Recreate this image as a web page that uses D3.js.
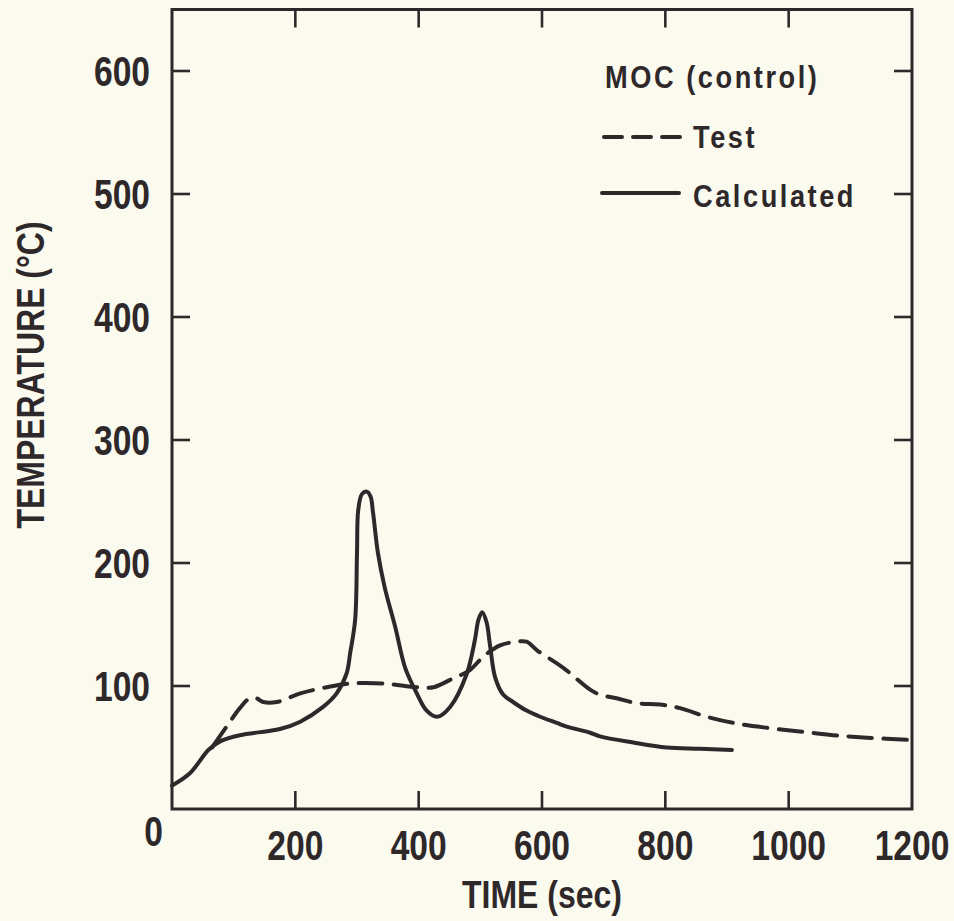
<!DOCTYPE html>
<html><head><meta charset="utf-8">
<script src="https://cdn.jsdelivr.net/npm/d3@7"></script>
<style>
html,body{margin:0;padding:0;background:#fafaef;}
svg{display:block;}
text{font-family:"Liberation Sans",Arial,sans-serif;font-weight:bold;fill:#2f282a;}
</style></head>
<body>
<script>
// ---- data ----
const xTicks = [200, 400, 600, 800, 1000, 1200];
const yTicks = [100, 200, 300, 400, 500, 600];
const xTickLabels = ["200", "400", "600", "800", "1000", "1200"];
const yTickLabels = ["100", "200", "300", "400", "500", "600"];
const originLabel = "0";
const xTitle = "TIME (sec)";
const yTitle = "TEMPERATURE (°C)";
const legendTitle = "MOC (control)";
const seriesNames = ["Test", "Calculated"];

// Calculated (solid)
const calcTime = [0, 29, 59, 78, 110, 175, 208, 245, 267, 283, 289, 297, 300, 302, 308, 316, 322, 326, 334, 345, 362, 378, 397, 413, 430, 451, 478, 491, 497, 503, 510, 516, 524, 537, 553, 575, 597, 624, 640, 678, 694, 748, 802, 856, 908];
const calcTemp = [19, 29, 48, 55, 60, 65, 71, 83, 94, 110, 127, 154, 208, 243, 256, 258, 254, 241, 208, 180, 148, 115, 94, 80, 75, 83, 110, 137, 154, 160, 152, 132, 107, 93, 87, 80, 75, 70, 67, 62, 59, 54, 50, 49, 48];

// Test (dashed)
const testTime = [65, 90, 110, 126, 137, 148, 170, 208, 251, 289, 343, 397, 424, 451, 483, 505, 532, 559, 575, 592, 634, 678, 694, 721, 754, 791, 824, 867, 910, 965, 1018, 1072, 1127, 1200];
const testTemp = [50, 68, 82, 90, 90, 87, 87, 94, 99, 102, 102, 99, 99, 105, 113, 124, 133, 136, 136, 129, 115, 97, 93, 90, 86, 85, 82, 75, 70, 66, 63, 60, 58, 56];

// ---- drawing ----
const W = 954, H = 921;
const ink = "#2f282a";
const svg = d3.select("body").append("svg").attr("width", W).attr("height", H);
svg.append("rect").attr("width", W).attr("height", H).attr("fill", "#fafaef");

const x = d3.scaleLinear().domain([0, 1200]).range([172, 912]);
const y = d3.scaleLinear().domain([0, 650]).range([809, 9.5]);

// condensed text helper
function ctext(g, tx, ty, str, size, anchor, sx, rot, ls) {
  const t = g.append("text")
    .attr("transform", `translate(${tx},${ty})` + (rot ? ` rotate(${rot})` : "") + ` scale(${sx},1)`)
    .attr("font-size", size).attr("text-anchor", anchor || "start").text(str);
  if (ls) t.attr("letter-spacing", ls);
  return t;
}

// frame
svg.append("rect").attr("x", x(0)).attr("y", y(650)).attr("width", x(1200) - x(0)).attr("height", y(0) - y(650))
  .attr("fill", "none").attr("stroke", ink).attr("stroke-width", 3);

const tl = 18;
const tickG = svg.append("g").attr("stroke", ink).attr("stroke-width", 2.6);
xTicks.filter(v => v < 1200).forEach(v => {
  tickG.append("line").attr("x1", x(v)).attr("x2", x(v)).attr("y1", y(0)).attr("y2", y(0) - tl);
  tickG.append("line").attr("x1", x(v)).attr("x2", x(v)).attr("y1", y(650)).attr("y2", y(650) + tl);
});
yTicks.forEach(v => {
  tickG.append("line").attr("x1", x(0)).attr("x2", x(0) + tl).attr("y1", y(v)).attr("y2", y(v));
  tickG.append("line").attr("x1", x(1200)).attr("x2", x(1200) - tl).attr("y1", y(v)).attr("y2", y(v));
});

// tick labels
const lab = svg.append("g");
xTicks.forEach((v, i) => ctext(lab, x(v), 860, xTickLabels[i], 42, "middle", 0.8));
yTicks.forEach((v, i) => ctext(lab, 150, y(v) + 15, yTickLabels[i], 42, "end", 0.8));
ctext(lab, 163, 846, originLabel, 42, "end", 0.8);

// axis titles
ctext(svg, (x(0) + x(1200)) / 2, 908, xTitle, 39, "middle", 0.82);
ctext(svg, 44, 375, yTitle, 39, "middle", 0.82, -90);

// lines
const line = d3.line().x(d => x(d[0])).y(d => y(d[1])).curve(d3.curveCatmullRom.alpha(0.5));
const calc = calcTime.map((t, i) => [t, calcTemp[i]]);
const test = testTime.map((t, i) => [t, testTemp[i]]);
svg.append("path").datum(calc).attr("d", line).attr("fill", "none").attr("stroke", ink)
  .attr("stroke-width", 4).attr("stroke-linecap", "round").attr("stroke-linejoin", "round");
svg.append("path").datum(test).attr("d", line).attr("fill", "none").attr("stroke", ink)
  .attr("stroke-width", 4).attr("stroke-linecap", "round").attr("stroke-dasharray", "23.5,11.5");

// legend
ctext(svg, 605, 88, legendTitle, 32, "start", 0.85, 0, 3);
svg.append("line").attr("x1", 604).attr("x2", 681).attr("y1", 137).attr("y2", 137).attr("stroke", ink)
  .attr("stroke-width", 4).attr("stroke-linecap", "round").attr("stroke-dasharray", "18,11");
ctext(svg, 693, 148, seriesNames[0], 32, "start", 0.85, 0, 3);
svg.append("line").attr("x1", 602).attr("x2", 679).attr("y1", 193).attr("y2", 193).attr("stroke", ink)
  .attr("stroke-width", 4).attr("stroke-linecap", "round");
ctext(svg, 693, 207, seriesNames[1], 32, "start", 0.85, 0, 3);
</script>
</body></html>
